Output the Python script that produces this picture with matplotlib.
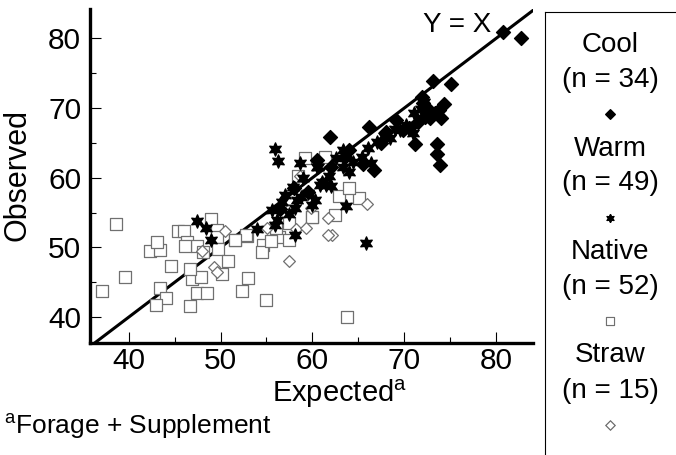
import matplotlib.pyplot as plt
import numpy as np

plt.rcParams['font.family'] = ['Liberation Sans', 'DejaVu Sans']
plt.rcParams['mathtext.fontset'] = 'custom'
plt.rcParams['mathtext.rm'] = 'Liberation Sans'

# Cool (n = 34)
cool_x = [82.7, 80.7, 75.1, 73.1, 71.9, 72.0, 74.3, 73.8, 73.3, 72.8, 72.3, 71.2,
          73.5, 73.6, 73.9, 69.1, 66.2, 61.9, 66.7, 71.5, 70.5, 74.0, 68.0, 63.5,
          60.5, 62.0, 65.5, 58.0, 59.5, 64.0, 72.5, 67.5, 69.8, 56.5]
cool_y = [80.0, 80.9, 73.4, 73.9, 71.6, 70.7, 70.6, 69.7, 69.3, 68.6, 68.7, 64.8,
          64.8, 63.4, 61.8, 68.3, 67.3, 65.9, 61.1, 68.0, 67.2, 68.5, 66.5, 63.0,
          62.5, 61.5, 62.0, 58.5, 58.0, 64.0, 70.0, 65.0, 66.8, 55.5]

# Warm (n = 49)
warm_x = [55.9, 56.2, 58.7, 60.6, 47.4, 48.4, 49.0, 54.0, 58.1, 63.7, 65.8, 55.6,
          56.1, 55.9, 56.7, 57.9, 58.3, 58.1, 59.5, 60.3, 60.0, 61.0, 61.5, 60.5,
          63.3, 64.4, 65.4, 66.4, 67.0, 68.4, 69.5, 70.2, 70.9, 71.1, 72.1, 63.3,
          60.8, 57.0, 59.0, 62.0, 64.0, 66.0, 67.8, 69.0, 71.8, 57.5, 61.8, 62.6, 58.8]
warm_y = [64.1, 62.4, 62.1, 61.5, 53.8, 52.8, 51.0, 52.7, 51.8, 56.0, 50.7, 55.4,
          54.0, 53.2, 56.5, 58.7, 56.8, 55.7, 57.8, 56.8, 56.1, 59.4, 59.0, 61.5,
          61.6, 62.3, 63.0, 62.1, 65.1, 65.7, 66.8, 67.6, 66.4, 69.3, 70.9, 64.0,
          59.0, 57.5, 60.0, 58.8, 60.8, 64.2, 66.0, 67.0, 69.8, 54.8, 60.2, 62.9, 57.2]

# Native (n = 52)
native_x = [38.6, 37.1, 39.6, 42.3, 43.4, 43.1, 44.6, 43.4, 44.1, 43.0, 46.7, 47.4,
            48.5, 46.9, 47.9, 50.2, 46.7, 45.4, 46.0, 46.3, 47.4, 46.1, 49.0, 49.6,
            49.6, 49.7, 48.1, 51.6, 52.9, 53.0, 52.3, 54.9, 54.6, 54.5, 56.4, 57.5,
            57.5, 59.9, 62.9, 65.1, 60.0, 62.4, 63.8, 59.2, 61.4, 58.4, 52.8, 51.6,
            56.0, 55.5, 64.0, 50.8]
native_y = [53.4, 43.8, 45.7, 49.5, 49.7, 50.8, 47.4, 44.2, 42.8, 41.8, 41.6, 43.5,
            43.5, 45.5, 45.7, 46.2, 46.9, 52.3, 52.4, 50.8, 50.2, 50.2, 54.1, 52.5,
            51.5, 49.8, 49.4, 51.1, 51.6, 45.6, 43.7, 42.5, 50.4, 49.4, 51.5, 53.5,
            51.1, 54.4, 57.4, 57.1, 54.3, 54.7, 40.1, 62.8, 63.0, 60.3, 51.8, 51.0,
            52.8, 50.9, 58.5, 48.0]

# Straw (n = 15)
straw_x = [57.5, 49.3, 49.6, 48.0, 50.5, 55.1, 58.2, 59.3, 65.9, 61.7, 62.1, 57.3,
           58.6, 61.7, 59.8]
straw_y = [48.0, 47.2, 46.5, 49.5, 52.3, 52.8, 52.7, 52.8, 56.2, 54.2, 51.8, 55.4,
           60.3, 51.8, 55.6]

ticks = [40, 50, 60, 70, 80]

fig = plt.figure(figsize=(6.76, 4.55), dpi=100)
ax = fig.add_axes([89.5 / 676, 1 - 343 / 455, (533 - 89.5) / 676, (343 - 9) / 455])

ax.plot([36, 84], [36, 84], color='black', lw=2.2, zorder=1)
ax.scatter(native_x, native_y, marker='s', s=70, facecolors='white',
           edgecolors='#707070', linewidths=0.9, zorder=2)
ax.scatter(straw_x, straw_y, marker='D', s=36, facecolors='white',
           edgecolors='#707070', linewidths=0.9, zorder=3)
ax.scatter(warm_x, warm_y, marker=(6, 1, 0), s=90, color='black', zorder=4)
ax.scatter(cool_x, cool_y, marker='D', s=50, color='black', zorder=5)

ax.set_xlim(35.74, 84.0)
ax.set_ylim(36.3, 84.2)
ax.set_xticks(ticks)
ax.set_yticks(ticks)
ax.set_xticks([45, 55, 65, 75], minor=True)
ax.set_yticks([45, 55, 65, 75], minor=True)
ax.tick_params(which='major', direction='in', length=8, width=0.8, labelsize=21.5)
ax.tick_params(axis='x', which='major', pad=3)
ax.tick_params(axis='y', which='major', pad=6)
ax.tick_params(which='minor', direction='in', length=4, width=0.8)
for side in ['top', 'right']:
    ax.spines[side].set_visible(False)
for side in ['left', 'bottom']:
    ax.spines[side].set_linewidth(2.4)

ax.text(75.7, 81.9, 'Y = X', fontsize=20, ha='center', va='center')

fig.text(18 / 676, 1 - 175 / 455, 'Observed', rotation=90, fontsize=22,
         ha='center', va='center')
fig.text(340 / 676, 1 - 394 / 455, 'Expected$^{\\mathrm{a}}$', fontsize=21,
         ha='center', va='center')
fig.text(4 / 676, 1 - 426 / 455, '$^{\\mathrm{a}}$Forage + Supplement', fontsize=19,
         ha='left', va='center')

# legend panel
fig.add_artist(plt.Line2D([545 / 676, 545 / 676], [0, 1 - 12 / 455], color='black', lw=0.8))
fig.add_artist(plt.Line2D([545 / 676, 1], [1 - 12 / 455, 1 - 12 / 455], color='black', lw=0.8))
labels = ['Cool', 'Warm', 'Native', 'Straw']
counts = [34, 49, 52, 15]
styles = [dict(marker='D', s=22, color='black'),
          dict(marker=(6, 1, 0), s=30, color='black'),
          dict(marker='s', s=40, facecolors='white', edgecolors='#707070', linewidths=0.8),
          dict(marker='D', s=22, facecolors='white', edgecolors='#707070', linewidths=0.8)]
lx = 610 / 676
for i, (lab, n, st) in enumerate(zip(labels, counts, styles)):
    y0 = 45 + i * 103.5
    fig.text(lx, 1 - y0 / 455, lab, fontsize=20, ha='center', va='center')
    fig.text(lx, 1 - (y0 + 35) / 455, f'(n = {n})', fontsize=20, ha='center', va='center')
    fig.add_artist(plt.scatter([lx], [1 - (y0 + 69) / 455], transform=fig.transFigure,
                               clip_on=False, **st))

fig.savefig('out.png', dpi=100)
